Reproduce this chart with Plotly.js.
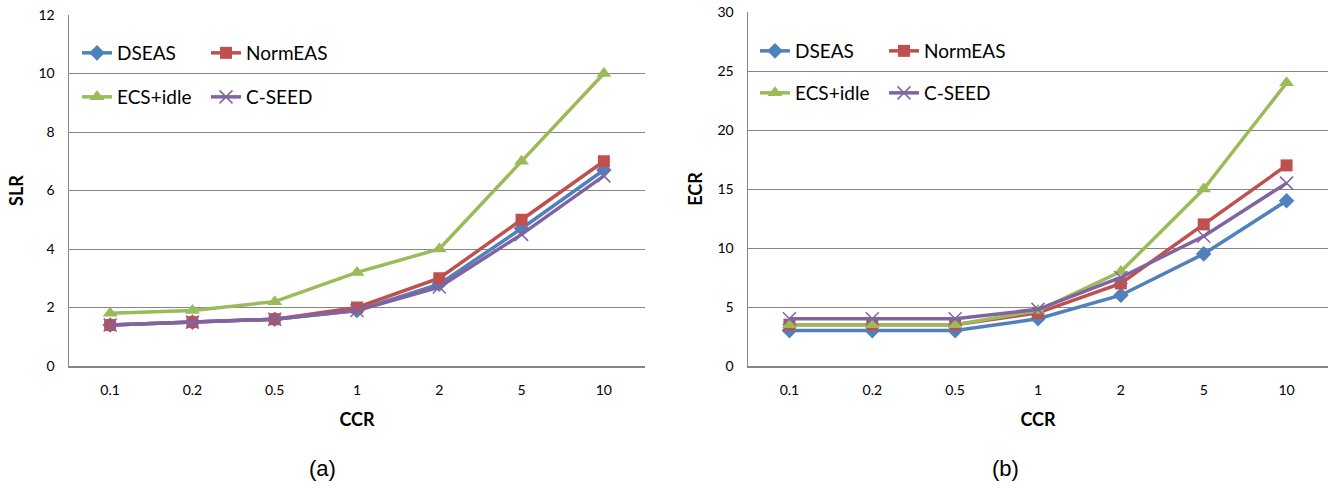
<!DOCTYPE html>
<html><head><meta charset="utf-8">
<script src="https://cdn.plot.ly/plotly-3.0.1.min.js"></script>
<style>html,body{margin:0;padding:0;background:#fff}#c{width:1333px;height:488px}</style>
</head><body><div id="c"></div>
<script>
const categories = ["0.1","0.2","0.5","1","2","5","10"];
const seriesNames = ["DSEAS","NormEAS","ECS+idle","C-SEED"];
const slrDSEAS = [1.4,1.5,1.6,1.9,2.8,4.7,6.7];
const slrNormEAS = [1.4,1.5,1.6,2.0,3.0,5.0,7.0];
const slrECSidle = [1.8,1.9,2.2,3.2,4.0,7.0,10.0];
const slrCSEED = [1.4,1.5,1.6,1.9,2.7,4.5,6.5];
const ecrDSEAS = [3,3,3,4,6,9.5,14];
const ecrNormEAS = [3.5,3.5,3.5,4.5,7,12,17];
const ecrECSidle = [3.5,3.5,3.5,4.7,8,15,24];
const ecrCSEED = [4,4,4,4.8,7.5,11,15.5];

const colors = ["#4F81BD","#C0504D","#9BBB59","#8064A2"];
const symbols = ["diamond","square","triangle-up","x-thin"];
const sizes = [12,12,13,13];
const FONT = "Lato, 'Open Sans', sans-serif";

function mk(y, i, xa, ya, leg){
  return {x: categories, y: y, name: seriesNames[i], type:"scatter", mode:"lines+markers",
    xaxis: xa, yaxis: ya, legend: leg,
    line:{color:colors[i], width:3.5},
    marker:{symbol:symbols[i], size:sizes[i], color:colors[i], line:{color:colors[i], width: i===3?1.5:0}}};
}
const data = [
  mk(slrDSEAS,0,"x","y","legend"), mk(slrNormEAS,1,"x","y","legend"),
  mk(slrECSidle,2,"x","y","legend2"), mk(slrCSEED,3,"x","y","legend2"),
  mk(ecrDSEAS,0,"x2","y2","legend3"), mk(ecrNormEAS,1,"x2","y2","legend3"),
  mk(ecrECSidle,2,"x2","y2","legend4"), mk(ecrCSEED,3,"x2","y2","legend4")
];
const tickFont = {family:FONT, size:14, color:"#000"};
const titleFont = {family:FONT, size:18, color:"#000", weight:"bold"};
function xax(dom, anchor){
  return {domain:dom, anchor:anchor, type:"category", range:[-0.5,6.5], showgrid:false,
    showline:true, linecolor:"#868686", linewidth:1.5, ticks:"", tickfont:tickFont,
    ticklabelstandoff:11, title:{text:"CCR", font:titleFont, standoff:16}, fixedrange:true, zeroline:false};
}
function yax(dom, anchor, max, dt, title){
  return {domain:dom, anchor:anchor, range:[0,max], dtick:dt, showgrid:true, gridcolor:"#868686", gridwidth:1,
    showline:true, linecolor:"#868686", linewidth:1.5, ticks:"", tickfont:tickFont, ticklabelstandoff:10,
    title:{text:title, font:titleFont, standoff:10}, zeroline:false, fixedrange:true};
}
function leg(x, y){
  return {x:x, y:y, xref:"paper", yref:"paper", xanchor:"left", yanchor:"middle", orientation:"h",
    entrywidth:84, bgcolor:"rgba(0,0,0,0)", font:{family:FONT, size:19, color:"#000"}, itemwidth:30};
}
const layout = {
  width:1333, height:488, margin:{l:0,r:0,t:0,b:0}, paper_bgcolor:"#fff", plot_bgcolor:"#fff",
  showlegend:true,
  xaxis: xax([69/1333, 645/1333], "y"),
  yaxis: yax([0.25, 1-15/488], "x", 12, 2, "SLR"),
  xaxis2: xax([748/1333, 1328/1333], "y2"),
  yaxis2: yax([0.25, 1-12/488], "x2", 30, 5, "ECR"),
  legend: leg(77/1333, 1-53/488),
  legend2: leg(77/1333, 1-97/488),
  legend3: leg(755/1333, 1-51/488),
  legend4: leg(755/1333, 1-93/488),
  annotations:[
    {text:"(a)", x:322/1333, y:1-468/488, xref:"paper", yref:"paper", xanchor:"center", yanchor:"middle", showarrow:false,
     font:{family:"Liberation Sans, Arial, sans-serif", size:22, color:"#000"}},
    {text:"(b)", x:1005/1333, y:1-468/488, xref:"paper", yref:"paper", xanchor:"center", yanchor:"middle", showarrow:false,
     font:{family:"Liberation Sans, Arial, sans-serif", size:22, color:"#000"}}
  ]
};
Plotly.newPlot("c", data, layout, {displayModeBar:false, staticPlot:true});
</script></body></html>
